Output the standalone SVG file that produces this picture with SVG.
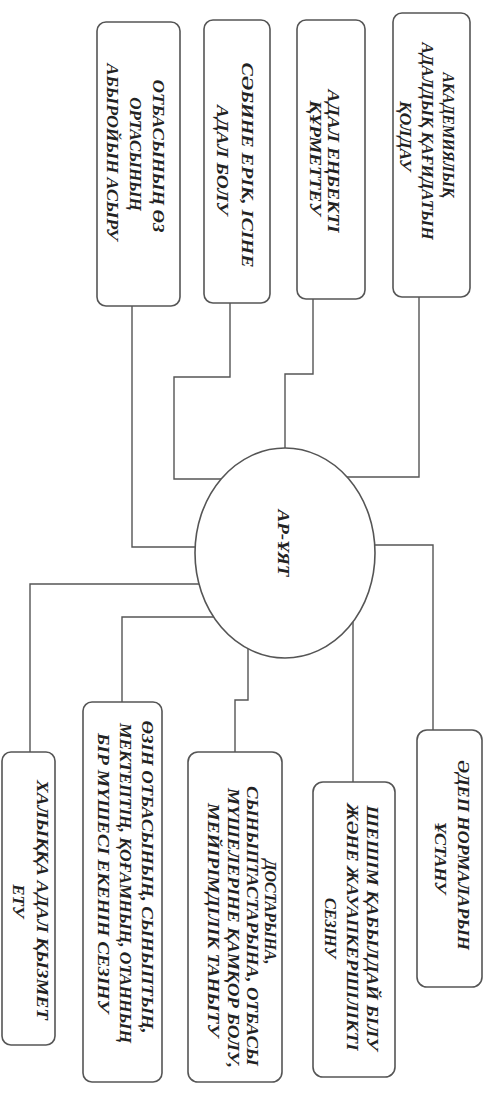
<svg xmlns="http://www.w3.org/2000/svg" width="495" height="1093" viewBox="0 0 495 1093">
<style>
.box{fill:#fff;stroke:#555;stroke-width:1.6}
.con{fill:none;stroke:#555;stroke-width:1.4}
.t{font-family:"Liberation Serif","DejaVu Serif",serif;font-size:17px;font-weight:bold;font-style:italic;fill:#222;text-anchor:middle}
</style>
<rect width="495" height="1093" fill="#fff"/>
<g id="connectors" class="con">
<path d="M132 306 V547 H195"/>
<path d="M230 303 V377 H174 V479 H221"/>
<path d="M313 299 V374 H285 V448"/>
<path d="M419 297 V477 H347"/>
<path d="M30 752 V584 H199"/>
<path d="M122 702 V617 H214"/>
<path d="M235 752 V700 H248 V649"/>
<path d="M353 782 V622"/>
<path d="M433 730 V545 H375"/>
</g>
<g id="center">
<ellipse cx="285" cy="553" rx="90" ry="105" class="box"/>
<text class="t" transform="translate(277.5,543) rotate(90)" textLength="67" lengthAdjust="spacingAndGlyphs">АР-ҰЯТ</text>
</g>
<g id="n1">
<rect x="97" y="22" width="83" height="284" rx="9" class="box"/>
<text class="t" transform="translate(152.5,156) rotate(90)" textLength="153" lengthAdjust="spacingAndGlyphs">ОТБАСЫНЫҢ ӨЗ</text>
<text class="t" transform="translate(129.5,154) rotate(90)">ОРТАСЫНЫҢ</text>
<text class="t" transform="translate(106.5,152) rotate(90)" textLength="177" lengthAdjust="spacingAndGlyphs">АБЫРОЙЫН АСЫРУ</text>
</g>
<g id="n2">
<rect x="204" y="20" width="66" height="283" rx="9" class="box"/>
<text class="t" transform="translate(241.5,165) rotate(90)" textLength="205" lengthAdjust="spacingAndGlyphs">СӘБИНЕ ЕРІК, ІСІНЕ</text>
<text class="t" transform="translate(216.5,160) rotate(90)" textLength="110" lengthAdjust="spacingAndGlyphs">АДАЛ БОЛУ</text>
</g>
<g id="n3">
<rect x="297" y="20" width="68" height="279" rx="9" class="box"/>
<text class="t" transform="translate(327.5,161) rotate(90)" textLength="143" lengthAdjust="spacingAndGlyphs">АДАЛ ЕҢБЕКТІ</text>
<text class="t" transform="translate(309.5,158) rotate(90)" textLength="115" lengthAdjust="spacingAndGlyphs">ҚҰРМЕТТЕУ</text>
</g>
<g id="n4">
<rect x="393" y="13" width="77" height="284" rx="9" class="box"/>
<text class="t" transform="translate(442.5,135) rotate(90)" textLength="125" lengthAdjust="spacingAndGlyphs">АКАДЕМИЯЛЫҚ</text>
<text class="t" transform="translate(421.5,141) rotate(90)" textLength="197" lengthAdjust="spacingAndGlyphs">АДАЛДЫҚ ҚАҒИДАТЫН</text>
<text class="t" transform="translate(399.5,136) rotate(90)" textLength="70" lengthAdjust="spacingAndGlyphs">ҚОЛДАУ</text>
</g>
<g id="n5">
<rect x="2" y="752" width="53" height="293" rx="9" class="box"/>
<text class="t" transform="translate(36.5,900) rotate(90)" textLength="240" lengthAdjust="spacingAndGlyphs">ХАЛЫҚҚА АДАЛ ҚЫЗМЕТ</text>
<text class="t" transform="translate(12.5,901) rotate(90)">ЕТУ</text>
</g>
<g id="n6">
<rect x="83" y="702" width="79" height="380" rx="9" class="box"/>
<text class="t" transform="translate(141.5,877) rotate(90)" textLength="313" lengthAdjust="spacingAndGlyphs">ӨЗІН ОТБАСЫНЫҢ, СЫНЫПТЫҢ,</text>
<text class="t" transform="translate(119.5,883) rotate(90)" textLength="320" lengthAdjust="spacingAndGlyphs">МЕКТЕПТІҢ, ҚОҒАМНЫҢ, ОТАННЫҢ</text>
<text class="t" transform="translate(97.5,873) rotate(90)" textLength="280" lengthAdjust="spacingAndGlyphs">БІР МҮШЕСІ ЕКЕНІН СЕЗІНУ</text>
</g>
<g id="n7">
<rect x="188" y="752" width="94" height="330" rx="10" class="box"/>
<text class="t" transform="translate(264.5,912) rotate(90)" textLength="105" lengthAdjust="spacingAndGlyphs">ДОСТАРЫНА,</text>
<text class="t" transform="translate(246.5,926) rotate(90)" textLength="280" lengthAdjust="spacingAndGlyphs">СЫНЫПТАСТАРЫНА, ОТБАСЫ</text>
<text class="t" transform="translate(227.5,928) rotate(90)" textLength="280" lengthAdjust="spacingAndGlyphs">МҮШЕЛЕРІНЕ ҚАМҚОР БОЛУ,</text>
<text class="t" transform="translate(207.5,920) rotate(90)" textLength="234" lengthAdjust="spacingAndGlyphs">МЕЙІРІМДІЛІК ТАНЫТУ</text>
</g>
<g id="n8">
<rect x="313" y="782" width="82" height="295" rx="10" class="box"/>
<text class="t" transform="translate(366.5,928) rotate(90)" textLength="245" lengthAdjust="spacingAndGlyphs">ШЕШІМ ҚАБЫЛДАЙ БІЛУ</text>
<text class="t" transform="translate(346.5,927) rotate(90)" textLength="247" lengthAdjust="spacingAndGlyphs">ЖӘНЕ ЖАУАПКЕРШІЛІКТІ</text>
<text class="t" transform="translate(324.5,928) rotate(90)" textLength="60" lengthAdjust="spacingAndGlyphs">СЕЗІНУ</text>
</g>
<g id="n9">
<rect x="417" y="730" width="65" height="257" rx="10" class="box"/>
<text class="t" transform="translate(457.5,855) rotate(90)" textLength="190" lengthAdjust="spacingAndGlyphs">ӘДЕП НОРМАЛАРЫН</text>
<text class="t" transform="translate(434.5,858) rotate(90)" textLength="72" lengthAdjust="spacingAndGlyphs">ҰСТАНУ</text>
</g>
</svg>
